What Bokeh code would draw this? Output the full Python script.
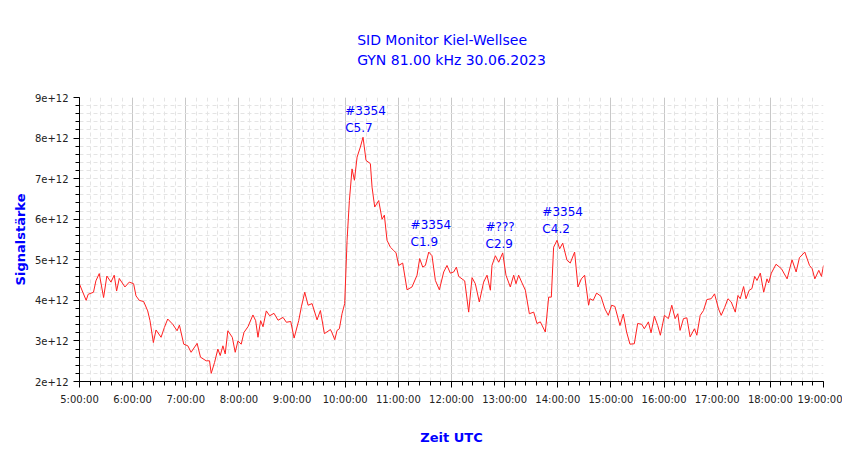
from bokeh.plotting import figure
from bokeh.models import FixedTicker, Title
from bokeh.core.properties import value
from bokeh.embed import file_html
from bokeh.resources import INLINE

# minutes after 05:00 UTC
minutes = [0, 7.5, 9.8, 15.8, 18.5, 22.3, 27.2, 30.9, 35.5, 39.2, 41.9, 44.9, 51.3, 56.2, 61.1, 63.8, 67.5, 72.5, 77, 79.6,
           83.4, 86.4, 92.1, 95.8, 99.6, 105.3, 110.2, 112.8, 117.7, 122.3, 126, 132.8, 136.6, 143, 146.8, 148.7, 152.5, 156.2,
           158.9, 161.9, 164.5, 167.5, 172.5, 175.8, 178.9, 182.6, 185.7, 190.2, 195.8, 198.9, 201.5, 204.5, 207.2, 210.9,
           214.7, 219.6, 224.2, 229.8, 233.6, 238.5, 242.3,
           247.5, 250.5, 254.3, 258.1, 262.6, 268.2, 272, 276.5, 283.3, 285.1, 288.2, 290.8, 293.4, 296.4, 299.4, 302.1, 304.7,
           307.7, 310.4, 313.4, 317.1, 320.1, 323.5, 328.4, 330.3, 333.3, 337.8, 341.6, 344.2, 347.2, 351, 354.7, 357.4, 360.4,
           364.9, 369.8, 375.4, 381.1, 384.1, 387.5, 390.5, 394.3, 398, 401.8, 406.3, 411.2, 414.9, 418.7, 422.5, 425.5, 428.1,
           434.9, 439.4, 443.2, 446.9, 451.4, 456.3, 460.1, 463.9, 465.7, 469.5, 473.3, 477.8, 481.5, 486.4, 490.2, 492.8, 495.8,
           499.6, 503.4, 507.9, 512.8, 516.5, 520.3, 525.9, 529.7, 532.7, 535.3, 539.1, 542.1, 545.5, 550.4, 554.1, 559, 562.8,
           566.6, 570.3, 574.8,
           576.2, 580, 583.8, 588.7, 593.2, 597, 600.8, 604.5, 610.2, 614, 617.7, 621.5, 626.4, 630.2, 634.7, 637.7, 642.3, 645.3,
           649.1, 652.8, 655.8, 660.4, 664.9, 668.7, 672.5, 675.5, 678.1, 681.9, 685.7, 689.4, 694.3, 697, 700.8, 704.5, 708.3,
           713.2, 717, 721.5, 724.5, 728.3, 732.1, 735.8, 740.4, 743.4, 746, 749.8, 752.5, 756.2, 759.2, 762.3, 764.9, 768.7,
           772.5, 776.2, 778.1, 781.1, 786.4, 792.5, 798.9, 804.5, 809.1, 812.8, 818.9, 824.2, 827.2, 830.2, 834.7, 837.7, 840]
# signal strength in units of 1e12
signal = [4.4, 4.0, 4.15, 4.2, 4.48, 4.66, 4.07, 4.6, 4.45, 4.62, 4.23, 4.54, 4.33, 4.45, 4.41, 4.11, 4.0, 3.97, 3.74, 3.5,
          2.96, 3.27, 3.09, 3.33, 3.54, 3.41, 3.25, 3.39, 2.92, 2.88, 2.72, 2.94, 2.6, 2.51, 2.51, 2.2, 2.47, 2.8,
          2.64, 2.88, 2.68, 3.25, 3.09, 2.72, 3.0, 2.92, 3.21, 3.35, 3.64, 3.5, 3.09, 3.5, 3.35, 3.74,
          3.62, 3.68, 3.51, 3.58, 3.46, 3.48, 3.07,
          3.5, 3.84, 4.2, 3.88, 3.92, 3.52, 3.75, 3.18, 3.28, 3.2, 3.03, 3.26, 3.3, 3.67, 3.92, 5.48, 6.46,
          7.24, 6.96, 7.53, 7.78, 8.02, 7.45, 7.37, 6.79, 6.3, 6.46, 6.0, 6.1, 5.48, 5.31, 5.23, 5.17, 4.86,
          4.92, 4.26, 4.33, 4.62, 5.03, 4.82, 4.86, 5.19, 5.1, 4.49, 4.26, 4.7, 4.86, 4.67, 4.7, 4.82, 4.59,
          4.48, 3.71, 4.56, 4.41, 3.96, 4.45, 4.62, 4.25, 4.86, 5.1, 4.94, 5.17, 4.62, 4.33, 4.62, 4.41, 4.62,
          4.43, 4.25, 3.67, 3.71, 3.43, 3.47, 3.22, 4.08, 4.08, 5.31, 5.48, 5.27, 5.41, 4.99, 4.92, 5.19, 4.33,
          4.53, 4.62, 3.88,
          4.04, 4.0, 4.18, 4.1, 3.79, 3.63, 3.88, 3.85, 3.38, 3.66, 3.22, 2.92, 2.93, 3.43, 3.41, 3.3, 3.47, 3.2,
          3.61, 3.38, 3.14, 3.63, 3.55, 3.88, 3.55, 3.67, 3.26, 3.55, 3.57, 3.1, 3.3, 3.14, 3.63, 3.75, 4.02,
          4.04, 4.16, 3.79, 3.63, 3.82, 4.04, 3.96, 3.71, 4.12, 4.04, 4.34, 4.04, 4.25, 4.29, 4.59, 4.49, 4.67,
          4.2, 4.53, 4.43, 4.67, 4.89, 4.78, 4.53, 5.0, 4.7, 5.05, 5.19, 4.86, 4.78, 4.53, 4.74, 4.59, 4.86]

hour_ticks = list(range(5, 20))
hour_labels = ["%d:00:00" % h for h in hour_ticks]
y_ticks = [2, 3, 4, 5, 6, 7, 8, 9]
y_labels = ["%de+12" % v for v in y_ticks]
title_lines = ["SID Monitor Kiel-Wellsee", "GYN 81.00 kHz 30.06.2023"]

ann_hour = [10.0, 11.23, 12.64, 13.71]
ann_val = [8.83, 6.02, 5.97, 6.34]
ann_text = ["#3354\nC5.7", "#3354\nC1.9", "#???\nC2.9", "#3354\nC4.2"]

x = [5 + m / 60.0 for m in minutes]
y = [v * 1e12 for v in signal]

FONT = "DejaVu Sans"
BLUE = "#0000ff"

p = figure(frame_width=744, frame_height=284, output_backend="svg", toolbar_location=None,
           x_range=(5, 19), y_range=(2e12, 9e12), min_border_left=79, min_border_top=97,
           min_border_right=19, min_border_bottom=70)
p.outline_line_color = None
p.background_fill_color = "white"

p.add_layout(Title(text="\n".join(title_lines), align="center", standoff=58, text_color=BLUE,
                   text_font=FONT, text_font_size="14px", text_font_style="normal",
                   text_line_height=1.3), "above")

p.xaxis.ticker = FixedTicker(ticks=hour_ticks, minor_ticks=[5 + i * 0.2 for i in range(71)])
p.xaxis.major_label_overrides = dict(zip(hour_ticks, hour_labels))
p.yaxis.ticker = FixedTicker(ticks=[v * 1e12 for v in y_ticks],
                             minor_ticks=[(2 + i * 0.2) * 1e12 for i in range(36)])
p.yaxis.major_label_overrides = {v * 1e12: l for v, l in zip(y_ticks, y_labels)}

for ax in (p.xaxis[0], p.yaxis[0]):
    ax.major_label_text_font = FONT
    ax.major_label_text_font_size = "10px"
    ax.major_label_text_color = "#222222"
    ax.axis_label_text_font = FONT
    ax.axis_label_text_font_size = "13px"
    ax.axis_label_text_font_style = "bold"
    ax.axis_label_text_color = BLUE
    ax.major_tick_out = 6
    ax.major_tick_in = 0
    ax.minor_tick_out = 4
    ax.minor_tick_in = 0
    ax.axis_line_color = "black"
p.xaxis.axis_label = "Zeit UTC"
p.yaxis.axis_label = "Signalstärke"
p.xaxis.axis_label_standoff = 22
p.yaxis.axis_label_standoff = 4
p.xaxis.major_label_standoff = 6

p.xgrid.grid_line_color = "#c8c8c8"
p.xgrid.minor_grid_line_color = "#e4e4e4"
p.xgrid.minor_grid_line_dash = "4 3"
p.ygrid.grid_line_color = "#e4e4e4"
p.ygrid.grid_line_dash = "4 3"
p.ygrid.minor_grid_line_color = "#e4e4e4"
p.ygrid.minor_grid_line_dash = "4 3"

p.line(x, y, line_color="#ff2020", line_width=1)

p.text(x=ann_hour, y=[v * 1e12 for v in ann_val], text=ann_text, text_color=BLUE,
       text_font=value(FONT), text_font_size="12px", text_baseline="top", text_align="left",
       text_line_height=1.2)

open("out.html", "w").write(file_html(p, INLINE))
